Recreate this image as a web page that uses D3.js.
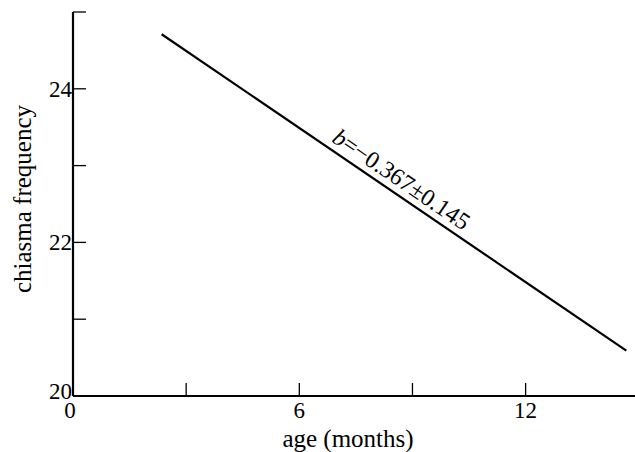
<!DOCTYPE html>
<html>
<head>
<meta charset="utf-8">
<script src="https://cdn.jsdelivr.net/npm/d3@7"></script>
<style>
  body { margin: 0; background: #fff; }
</style>
</head>
<body>
<svg id="chart" width="635" height="452"></svg>
<script>
// regression line (age in months, chiasma frequency)
var lineAge = [2.35, 14.67];
var lineFreq = [24.71, 20.59];
var yMajor = [20, 22, 24];
var yMinor = [21, 23, 25];
var xMajor = [0, 6, 12];
var xMinor = [3, 9];
var slopeLabel = ["b", "=\u22120.367\u00b10.145"];

var serif = "'Liberation Serif'";
var svg = d3.select("#chart");

var x = d3.scaleLinear().domain([0, 14.9]).range([73, 635]);
var y = d3.scaleLinear().domain([20, 25]).range([396, 12]);

// axes lines
svg.append("line")
  .attr("x1", x(0)).attr("x2", x(14.9))
  .attr("y1", y(20)).attr("y2", y(20))
  .attr("stroke", "#000").attr("stroke-width", 2.2);
svg.append("line")
  .attr("x1", x(0)).attr("x2", x(0))
  .attr("y1", y(20)).attr("y2", y(25))
  .attr("stroke", "#000").attr("stroke-width", 2.2);

// y ticks point inward
svg.selectAll(".ytick")
  .data(yMajor.concat(yMinor).filter(function(d) { return d > 20; }))
  .enter().append("line")
  .attr("x1", x(0)).attr("x2", x(0) + 13)
  .attr("y1", function(d) { return y(d); })
  .attr("y2", function(d) { return y(d); })
  .attr("stroke", "#000").attr("stroke-width", 1.3);

svg.selectAll(".ylab")
  .data(yMajor)
  .enter().append("text")
  .attr("x", x(0) - 1)
  .attr("y", function(d) { return y(d) + (d === 20 ? 3 : 8); })
  .attr("text-anchor", "end")
  .style("font-family", serif)
  .style("font-size", "23px")
  .text(function(d) { return d; });

// x ticks point up
svg.selectAll(".xtick")
  .data(xMajor.concat(xMinor).filter(function(d) { return d > 0; }))
  .enter().append("line")
  .attr("x1", function(d) { return x(d); })
  .attr("x2", function(d) { return x(d); })
  .attr("y1", y(20)).attr("y2", y(20) - 13)
  .attr("stroke", "#000").attr("stroke-width", 1.3);

svg.selectAll(".xlab")
  .data(xMajor)
  .enter().append("text")
  .attr("x", function(d) { return x(d) - (d === 0 ? 3 : 0); })
  .attr("y", y(20) + 22)
  .attr("text-anchor", "middle")
  .style("font-family", serif)
  .style("font-size", "23px")
  .text(function(d) { return d; });

// axis titles
svg.append("text")
  .attr("x", 348).attr("y", 447)
  .attr("text-anchor", "middle")
  .style("font-family", serif)
  .style("font-size", "25px")
  .text("age (months)");

svg.append("text")
  .attr("transform", "translate(31,199) rotate(-90)")
  .attr("text-anchor", "middle")
  .style("font-family", serif)
  .style("font-size", "25px")
  .text("chiasma frequency");

// regression line
var pts = lineAge.map(function(d, i) { return [x(d), y(lineFreq[i])]; });
svg.append("path")
  .attr("d", d3.line()(pts))
  .attr("fill", "none")
  .attr("stroke", "#000")
  .attr("stroke-width", 2.2);

// slope label sits just above the line, following its angle
var rad = Math.atan2(pts[1][1] - pts[0][1], pts[1][0] - pts[0][0]);
var t = (393 - pts[0][0]) / (pts[1][0] - pts[0][0]);
var cx = 393 + Math.sin(rad) * 7,
    cy = pts[0][1] + t * (pts[1][1] - pts[0][1]) - Math.cos(rad) * 7;
var lbl = svg.append("text")
  .attr("transform", "translate(" + cx + "," + cy + ") rotate(" + rad * 180 / Math.PI + ")")
  .attr("text-anchor", "middle")
  .style("font-family", serif)
  .style("font-size", "24px");
lbl.append("tspan").style("font-style", "italic").text(slopeLabel[0]);
lbl.append("tspan").text(slopeLabel[1]);
</script>
</body>
</html>
